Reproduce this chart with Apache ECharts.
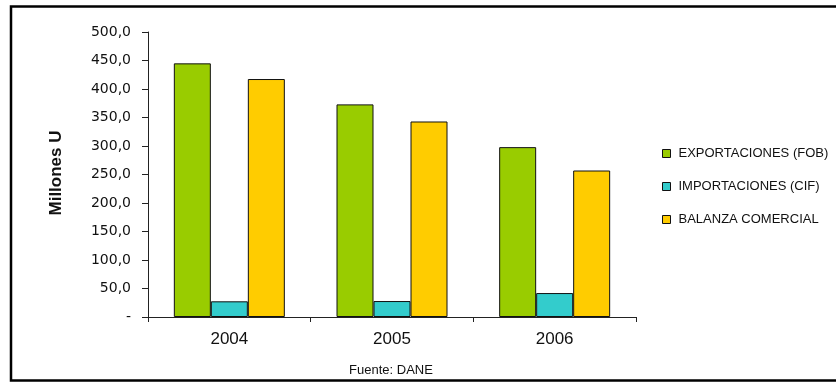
<!DOCTYPE html>
<html>
<head>
<meta charset="utf-8">
<script src="https://cdn.jsdelivr.net/npm/echarts@6/dist/echarts.min.js"></script>
<style>
  html, body { margin: 0; padding: 0; background: #fff; }
  #chart { width: 836px; height: 382px; }
</style>
</head>
<body>
<div id="chart"></div>
<script>
// Years on the category axis
var years = ['2004', '2005', '2006'];
// Values in millions of US dollars
var exportaciones = [445, 373, 298];
var importaciones = [27.5, 28, 42];
var balanza = [417.5, 343, 257];
// Series names shown in the legend
var seriesNames = ['EXPORTACIONES (FOB)', 'IMPORTACIONES (CIF)', 'BALANZA COMERCIAL'];
var seriesColors = ['#99CC00', '#33CCCC', '#FFCC00'];

var chart = echarts.init(document.getElementById('chart'), null, { renderer: 'canvas' });

function barSeries(name, data, color) {
  return {
    name: name,
    type: 'bar',
    data: data,
    barWidth: 37,
    barGap: '0%',
    itemStyle: { color: color, borderColor: '#111', borderWidth: 1 }
  };
}

chart.setOption({
  animation: false,
  backgroundColor: '#fff',
  grid: { left: 148, right: 200, top: 32, bottom: 65, containLabel: false },
  xAxis: {
    type: 'category',
    data: years,
    axisLine: { lineStyle: { color: '#222', width: 1 } },
    axisTick: { show: true, length: 5, lineStyle: { color: '#222' } },
    axisLabel: { color: '#111', fontFamily: 'Liberation Sans', fontSize: 17, margin: 14 }
  },
  yAxis: {
    type: 'value',
    min: 0,
    max: 500,
    interval: 50,
    splitLine: { show: false },
    axisLine: { show: true, lineStyle: { color: '#222', width: 1 } },
    axisTick: { show: true, length: 6, lineStyle: { color: '#222' } },
    axisLabel: {
      color: '#111',
      fontFamily: 'DejaVu Sans',
      fontSize: 14,
      margin: 17,
      formatter: function (v) {
        return v === 0 ? '-' : v.toFixed(1).replace('.', ',');
      }
    }
  },
  legend: {
    orient: 'vertical',
    left: 657,
    top: 142,
    itemWidth: 8,
    itemHeight: 8,
    itemGap: 20,
    icon: 'rect',
    data: seriesNames,
    itemStyle: { borderColor: '#111', borderWidth: 1 },
    textStyle: { color: '#111', fontFamily: 'Liberation Sans', fontSize: 13, padding: [0, 0, 0, 3] }
  },
  graphic: [
    {
      type: 'rect',
      shape: { x: 11, y: 6.5, width: 840, height: 374 },
      style: { fill: 'none', stroke: '#000', lineWidth: 2.5 },
      silent: true
    },
    {
      type: 'text',
      x: 56,
      y: 173,
      rotation: Math.PI / 2,
      style: {
        text: 'Millones U',
        fill: '#111',
        font: 'bold 17px "Liberation Sans"',
        textAlign: 'center',
        textVerticalAlign: 'middle'
      }
    },
    {
      type: 'text',
      x: 391,
      y: 370,
      style: {
        text: 'Fuente: DANE',
        fill: '#111',
        font: '13px "Liberation Sans"',
        textAlign: 'center',
        textVerticalAlign: 'middle'
      }
    }
  ],
  series: [
    barSeries(seriesNames[0], exportaciones, seriesColors[0]),
    barSeries(seriesNames[1], importaciones, seriesColors[1]),
    barSeries(seriesNames[2], balanza, seriesColors[2])
  ]
});
</script>
</body>
</html>
